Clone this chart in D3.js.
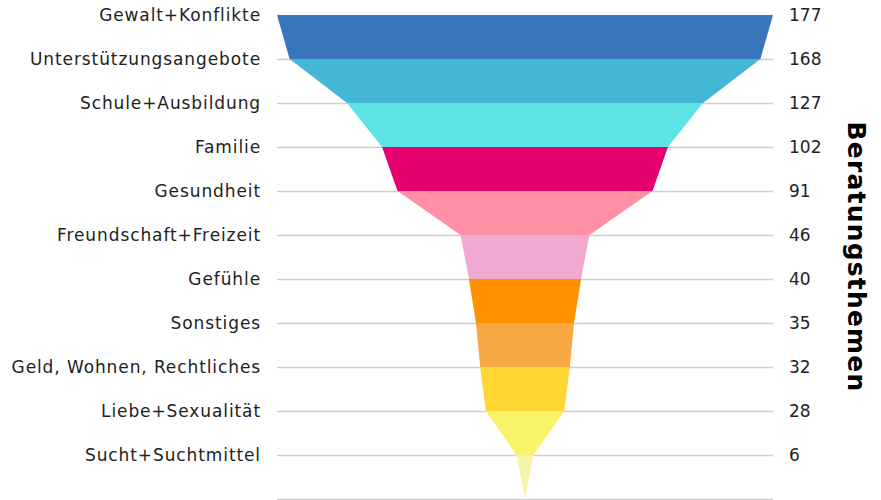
<!DOCTYPE html>
<html>
<head>
<meta charset="utf-8">
<script src="https://cdn.jsdelivr.net/npm/d3@7"></script>
<style>
  body { margin: 0; background: #fff; }
  text { font-family: "DejaVu Sans", sans-serif; fill: #222; }
</style>
</head>
<body>
<svg id="chart" width="881" height="500"></svg>
<script>
const categories = ['Gewalt+Konflikte', 'Unterstützungsangebote', 'Schule+Ausbildung', 'Familie',
    'Gesundheit', 'Freundschaft+Freizeit', 'Gefühle', 'Sonstiges',
    'Geld, Wohnen, Rechtliches', 'Liebe+Sexualität', 'Sucht+Suchtmittel'];
const values = [177, 168, 127, 102, 91, 46, 40, 35, 32, 28, 6];
const colors = ['#3a76bb', '#42b8d6', '#5de2e6', '#e6006e', '#ff8fa4', '#f0aad2',
    '#ff9100', '#f8a844', '#ffd633', '#f9f36a', '#f6f2aa'];
const title = 'Beratungsthemen';

const svg = d3.select('#chart');
const x0 = 277, x1 = 773, yTop = 15, yBottom = 499;
const cx = (x0 + x1) / 2;

const y = d3.scaleLinear().domain([0, categories.length]).range([yTop, yBottom]);
const w = d3.scaleLinear().domain([0, d3.max(values)]).range([0, (x1 - x0) / 2]);

// grid lines
svg.append('g').selectAll('line')
    .data(d3.range(1, categories.length + 1))
    .join('line')
    .attr('x1', x0).attr('x2', x1)
    .attr('y1', d => y(d) + 0.5).attr('y2', d => y(d) + 0.5)
    .attr('stroke', '#cfcfcf').attr('stroke-width', 1.5);

// funnel bands
const bands = values.map((v, i) => ({v, next: i + 1 < values.length ? values[i + 1] : 0, i}));
svg.append('g').selectAll('path')
    .data(bands)
    .join('path')
    .attr('d', d => {
        const ya = y(d.i), yb = y(d.i + 1);
        return `M${cx - w(d.v)},${ya}L${cx + w(d.v)},${ya}L${cx + w(d.next)},${yb}L${cx - w(d.next)},${yb}Z`;
    })
    .attr('fill', (d, i) => colors[i]);

// category labels
svg.append('g').selectAll('text')
    .data(categories)
    .join('text')
    .attr('x', 261).attr('y', (d, i) => y(i))
    .attr('text-anchor', 'end').attr('dy', '0.35em')
    .attr('font-size', 17).attr('letter-spacing', 0.9)
    .text(d => d);

// value labels
svg.append('g').selectAll('text')
    .data(values)
    .join('text')
    .attr('x', 789).attr('y', (d, i) => y(i))
    .attr('dy', '0.35em')
    .attr('font-size', 17)
    .text(d => d);

svg.append('text')
    .attr('transform', `translate(848,${(yTop + yBottom) / 2}) rotate(90)`)
    .attr('text-anchor', 'middle')
    .attr('font-size', 25).attr('font-weight', 'bold').attr('letter-spacing', 1.2)
    .style('fill', '#000')
    .text(title);
</script>
</body>
</html>
